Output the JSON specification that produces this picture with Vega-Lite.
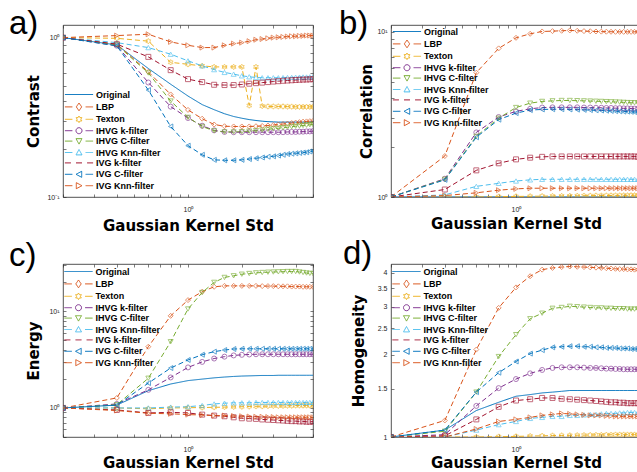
{
"$schema":"https://vega.github.io/schema/vega-lite/v6.json",
"background":"white",
"padding":{"left":8,"top":7,"right":0,"bottom":0},
"params":[
{"name":"shp","value":{"O":"M-4.7,0L4.7,0","L":"M-4.7,0L-2.2,0M2.2,0L4.7,0M0,-1.3L0.9,0L0,1.3L-0.9,0Z","T":"M-4.7,0L-2.2,0M2.2,0L4.7,0M0,-1.1L-0.32,-0.55L-0.95,-0.55L-0.63,0L-0.95,0.55L-0.32,0.55L0,1.1L0.32,0.55L0.95,0.55L0.63,0L0.95,-0.55L0.32,-0.55Z","Hk":"M-4.7,0L-2.2,0M2.2,0L4.7,0M-1,0A1 1 0 1 0 1,0A1 1 0 1 0 -1,0Z","Hc":"M-4.7,0L-2.2,0M2.2,0L4.7,0M-1,-0.8L1,-0.8L0,1Z","Hn":"M-4.7,0L-2.2,0M2.2,0L4.7,0M-1,0.8L1,0.8L0,-1Z","Vk":"M-4.7,0L-2.7,0M-1,0L1,0M2.7,0L4.7,0","Vc":"M-4.7,0L-2.2,0M2.2,0L4.7,0M0.9,-1L0.9,1L-1,0Z","Vn":"M-4.7,0L-2.2,0M2.2,0L4.7,0M-0.9,-1L-0.9,1L1,0Z"}},
{"name":"lbl","value":{"O":"Original","L":"LBP","T":"Texton","Hk":"IHVG k-filter","Hc":"IHVG C-filter","Hn":"IHVG Knn-filter","Vk":"IVG k-filter","Vc":"IVG C-filter","Vn":"IVG Knn-filter"}}
],
"columns":2,
"spacing":{"row":3,"column":24},
"concat":[
{"width":250,"height":172,"data":{"name":"a"},
"title":{"text":"a)","dx":-54,"offset":-16},
"resolve":{"axis":{"x":"independent","y":"independent"}},
"layer":[
{"mark":{"type":"line","strokeWidth":1,"clip":true},
"encoding":{
"x":{"field":"s","type":"quantitative","scale":{"type":"log","domain":[0.2,5],"nice":false},"axis":{"orient":"bottom","values":[0.2,0.3,0.4,0.5,0.6,0.7,0.8,0.9,1,2,3,4,5],"labelExpr":"datum.value==1?'10⁰':''","labelPadding":11,"title":"Gaussian Kernel Std","titleY":33,"titleBaseline":"alphabetic"}},
"y":{"field":"v","type":"quantitative","scale":{"type":"log","domain":[0.1,1.2],"nice":false},"axis":{"orient":"left","values":[0.1,0.2,0.3,0.4,0.5,0.6,0.7,0.8,0.9,1],"labelExpr":"datum.value==1?'10⁰':datum.value==0.1?'10⁻¹':''","labelPadding":7,"title":"Contrast","titleX":-25,"titleBaseline":"alphabetic"}},
"color":{"field":"k","type":"nominal","scale":{"domain":["O","L","T","Hk","Hc","Hn","Vk","Vc","Vn"],"range":["#0072BD","#D95319","#EDB120","#7E2F8E","#77AC30","#4DBEEE","#A2142F","#0072BD","#D95319"]},"legend":{"orient":"bottom-left","offset":6.5,"symbolOffset":4.5,"labelOffset":12.5,"labelExpr":"lbl[datum.label]","encode":{"symbols":{"update":{"shape":{"signal":"shp[datum.value]"},"fill":{"value":"transparent"},"strokeDash":{"value":[1,0]},"strokeWidth":{"value":1},"size":{"value":36}}}}}},
"strokeDash":{"field":"k","type":"nominal","scale":{"domain":["O","L","T","Hk","Hc","Hn","Vk","Vc","Vn"],"range":[[1,0],[5,3],[5,3],[5,3],[5,3],[5,3],[5,3],[5,3],[5,3]]},"legend":null}}},
{"mark":{"type":"point","filled":false,"size":25,"strokeWidth":0.9,"clip":true},
"transform":[{"filter":"datum.k!='O'"}],
"encoding":{
"x":{"field":"s","type":"quantitative","scale":{"type":"log","domain":[0.2,5],"nice":false},"axis":{"orient":"top","values":[0.2,0.3,0.4,0.5,0.6,0.7,0.8,0.9,1,2,3,4,5],"labels":false,"title":null}},
"y":{"field":"v","type":"quantitative","scale":{"type":"log","domain":[0.1,1.2],"nice":false},"axis":{"orient":"right","values":[0.1,0.2,0.3,0.4,0.5,0.6,0.7,0.8,0.9,1],"labels":false,"title":null}},
"color":{"field":"k","type":"nominal","legend":null},
"shape":{"field":"k","type":"nominal","scale":{"domain":["O","L","T","Hk","Hc","Hn","Vk","Vc","Vn"],"range":["circle","diamond","M0,-1.1L-0.32,-0.55L-0.95,-0.55L-0.63,0L-0.95,0.55L-0.32,0.55L0,1.1L0.32,0.55L0.95,0.55L0.63,0L0.95,-0.55L0.32,-0.55Z","circle","triangle-down","triangle-up","square","triangle-left","triangle-right"]},"legend":null}}}
]},
{"width":250,"height":172,"data":{"name":"b"},
"title":{"text":"b)","dx":-52,"offset":-16},
"resolve":{"axis":{"x":"independent","y":"independent"}},
"layer":[
{"mark":{"type":"line","strokeWidth":1,"clip":true},
"encoding":{
"x":{"field":"s","type":"quantitative","scale":{"type":"log","domain":[0.2,5],"nice":false},"axis":{"orient":"bottom","values":[0.2,0.3,0.4,0.5,0.6,0.7,0.8,0.9,1,2,3,4,5],"labelExpr":"datum.value==1?'10⁰':''","labelPadding":11,"title":"Gaussian Kernel Std","titleY":31,"titleBaseline":"alphabetic"}},
"y":{"field":"v","type":"quantitative","scale":{"type":"log","domain":[1,11],"nice":false},"axis":{"orient":"left","values":[1,2,3,4,5,6,7,8,9,10],"labelExpr":"datum.value==1?'10⁰':datum.value==10?'10¹':''","labelPadding":7,"title":"Correlation","titleX":-20,"titleBaseline":"alphabetic"}},
"color":{"field":"k","type":"nominal","scale":{"domain":["O","L","T","Hk","Hc","Hn","Vk","Vc","Vn"],"range":["#0072BD","#D95319","#EDB120","#7E2F8E","#77AC30","#4DBEEE","#A2142F","#0072BD","#D95319"]},"legend":{"orient":"top-left","offset":1.5,"symbolOffset":9.5,"labelOffset":12.5,"labelExpr":"lbl[datum.label]","encode":{"symbols":{"update":{"shape":{"signal":"shp[datum.value]"},"fill":{"value":"transparent"},"strokeDash":{"value":[1,0]},"strokeWidth":{"value":1},"size":{"value":36}}}}}},
"strokeDash":{"field":"k","type":"nominal","scale":{"domain":["O","L","T","Hk","Hc","Hn","Vk","Vc","Vn"],"range":[[1,0],[5,3],[5,3],[5,3],[5,3],[5,3],[5,3],[5,3],[5,3]]},"legend":null}}},
{"mark":{"type":"point","filled":false,"size":25,"strokeWidth":0.9,"clip":true},
"transform":[{"filter":"datum.k!='O'"}],
"encoding":{
"x":{"field":"s","type":"quantitative","scale":{"type":"log","domain":[0.2,5],"nice":false},"axis":{"orient":"top","values":[0.2,0.3,0.4,0.5,0.6,0.7,0.8,0.9,1,2,3,4,5],"labels":false,"title":null}},
"y":{"field":"v","type":"quantitative","scale":{"type":"log","domain":[1,11],"nice":false},"axis":{"orient":"right","values":[1,2,3,4,5,6,7,8,9,10],"labels":false,"title":null}},
"color":{"field":"k","type":"nominal","legend":null},
"shape":{"field":"k","type":"nominal","scale":{"domain":["O","L","T","Hk","Hc","Hn","Vk","Vc","Vn"],"range":["circle","diamond","M0,-1.1L-0.32,-0.55L-0.95,-0.55L-0.63,0L-0.95,0.55L-0.32,0.55L0,1.1L0.32,0.55L0.95,0.55L0.63,0L0.95,-0.55L0.32,-0.55Z","circle","triangle-down","triangle-up","square","triangle-left","triangle-right"]},"legend":null}}}
]},
{"width":250,"height":173,"data":{"name":"c"},
"title":{"text":"c)","dx":-54,"offset":-12},
"resolve":{"axis":{"x":"independent","y":"independent"}},
"layer":[
{"mark":{"type":"line","strokeWidth":1,"clip":true},
"encoding":{
"x":{"field":"s","type":"quantitative","scale":{"type":"log","domain":[0.2,5],"nice":false},"axis":{"orient":"bottom","values":[0.2,0.3,0.4,0.5,0.6,0.7,0.8,0.9,1,2,3,4,5],"labelExpr":"datum.value==1?'10⁰':''","labelPadding":11,"title":"Gaussian Kernel Std","titleY":30,"titleBaseline":"alphabetic"}},
"y":{"field":"v","type":"quantitative","scale":{"type":"log","domain":[0.5,31],"nice":false},"axis":{"orient":"left","values":[0.5,0.6,0.7,0.8,0.9,1,2,3,4,5,6,7,8,9,10,20,30],"labelExpr":"datum.value==1?'10⁰':datum.value==10?'10¹':''","labelPadding":7,"title":"Energy","titleX":-25,"titleBaseline":"alphabetic"}},
"color":{"field":"k","type":"nominal","scale":{"domain":["O","L","T","Hk","Hc","Hn","Vk","Vc","Vn"],"range":["#0072BD","#D95319","#EDB120","#7E2F8E","#77AC30","#4DBEEE","#A2142F","#0072BD","#D95319"]},"legend":{"orient":"top-left","offset":3,"symbolOffset":8,"labelOffset":12.5,"labelExpr":"lbl[datum.label]","encode":{"symbols":{"update":{"shape":{"signal":"shp[datum.value]"},"fill":{"value":"transparent"},"strokeDash":{"value":[1,0]},"strokeWidth":{"value":1},"size":{"value":36}}}}}},
"strokeDash":{"field":"k","type":"nominal","scale":{"domain":["O","L","T","Hk","Hc","Hn","Vk","Vc","Vn"],"range":[[1,0],[5,3],[5,3],[5,3],[5,3],[5,3],[5,3],[5,3],[5,3]]},"legend":null}}},
{"mark":{"type":"point","filled":false,"size":25,"strokeWidth":0.9,"clip":true},
"transform":[{"filter":"datum.k!='O'"}],
"encoding":{
"x":{"field":"s","type":"quantitative","scale":{"type":"log","domain":[0.2,5],"nice":false},"axis":{"orient":"top","values":[0.2,0.3,0.4,0.5,0.6,0.7,0.8,0.9,1,2,3,4,5],"labels":false,"title":null}},
"y":{"field":"v","type":"quantitative","scale":{"type":"log","domain":[0.5,31],"nice":false},"axis":{"orient":"right","values":[0.5,0.6,0.7,0.8,0.9,1,2,3,4,5,6,7,8,9,10,20,30],"labels":false,"title":null}},
"color":{"field":"k","type":"nominal","legend":null},
"shape":{"field":"k","type":"nominal","scale":{"domain":["O","L","T","Hk","Hc","Hn","Vk","Vc","Vn"],"range":["circle","diamond","M0,-1.1L-0.32,-0.55L-0.95,-0.55L-0.63,0L-0.95,0.55L-0.32,0.55L0,1.1L0.32,0.55L0.95,0.55L0.63,0L0.95,-0.55L0.32,-0.55Z","circle","triangle-down","triangle-up","square","triangle-left","triangle-right"]},"legend":null}}}
]},
{"width":250,"height":173,"data":{"name":"d"},
"title":{"text":"d)","dx":-48,"offset":-7},
"resolve":{"axis":{"x":"independent","y":"independent"}},
"layer":[
{"mark":{"type":"line","strokeWidth":1,"clip":true},
"encoding":{
"x":{"field":"s","type":"quantitative","scale":{"type":"log","domain":[0.2,5],"nice":false},"axis":{"orient":"bottom","values":[0.2,0.3,0.4,0.5,0.6,0.7,0.8,0.9,1,2,3,4,5],"labelExpr":"datum.value==1?'10⁰':''","labelPadding":11,"title":"Gaussian Kernel Std","titleY":30,"titleBaseline":"alphabetic"}},
"y":{"field":"v","type":"quantitative","scale":{"type":"log","domain":[1,4.3],"nice":false},"axis":{"orient":"left","values":[1,1.5,2,2.5,3,3.5,4],"format":"~g","labelPadding":7,"title":"Homogeneity","titleX":-28,"titleBaseline":"alphabetic"}},
"color":{"field":"k","type":"nominal","scale":{"domain":["O","L","T","Hk","Hc","Hn","Vk","Vc","Vn"],"range":["#0072BD","#D95319","#EDB120","#7E2F8E","#77AC30","#4DBEEE","#A2142F","#0072BD","#D95319"]},"legend":{"orient":"top-left","offset":3,"symbolOffset":8,"labelOffset":12.5,"labelExpr":"lbl[datum.label]","encode":{"symbols":{"update":{"shape":{"signal":"shp[datum.value]"},"fill":{"value":"transparent"},"strokeDash":{"value":[1,0]},"strokeWidth":{"value":1},"size":{"value":36}}}}}},
"strokeDash":{"field":"k","type":"nominal","scale":{"domain":["O","L","T","Hk","Hc","Hn","Vk","Vc","Vn"],"range":[[1,0],[5,3],[5,3],[5,3],[5,3],[5,3],[5,3],[5,3],[5,3]]},"legend":null}}},
{"mark":{"type":"point","filled":false,"size":25,"strokeWidth":0.9,"clip":true},
"transform":[{"filter":"datum.k!='O'"}],
"encoding":{
"x":{"field":"s","type":"quantitative","scale":{"type":"log","domain":[0.2,5],"nice":false},"axis":{"orient":"top","values":[0.2,0.3,0.4,0.5,0.6,0.7,0.8,0.9,1,2,3,4,5],"labels":false,"title":null}},
"y":{"field":"v","type":"quantitative","scale":{"type":"log","domain":[1,4.3],"nice":false},"axis":{"orient":"right","values":[1,1.5,2,2.5,3,3.5,4],"labels":false,"title":null}},
"color":{"field":"k","type":"nominal","legend":null},
"shape":{"field":"k","type":"nominal","scale":{"domain":["O","L","T","Hk","Hc","Hn","Vk","Vc","Vn"],"range":["circle","diamond","M0,-1.1L-0.32,-0.55L-0.95,-0.55L-0.63,0L-0.95,0.55L-0.32,0.55L0,1.1L0.32,0.55L0.95,0.55L0.63,0L0.95,-0.55L0.32,-0.55Z","circle","triangle-down","triangle-up","square","triangle-left","triangle-right"]},"legend":null}}}
]}
],
"config":{
"view":{"stroke":"#262626","strokeWidth":0.8},
"title":{"anchor":"start","frame":"group","fontSize":33,"font":"Liberation Sans","fontWeight":"normal","baseline":"bottom","color":"#000"},
"axis":{"grid":false,"domain":false,"tickColor":"#262626","tickSize":-3,"tickWidth":0.6,"labelFont":"Liberation Sans","labelFontSize":7,"labelColor":"#262626","labelOverlap":false,"labelFlush":false,"labelBound":false,"titleFont":"DejaVu Sans","titleFontSize":15,"titleFontWeight":"bold","titleColor":"#000"},
"axisY":{"minExtent":0},
"legend":{"title":null,"padding":0,"symbolSize":36,"rowPadding":0.4,"labelFont":"Liberation Sans","labelFontSize":9,"labelFontWeight":"bold","labelColor":"#000"}
},
"datasets":{
"a":[
{"k":"O","s":0.2,"v":1},{"k":"O","s":0.4,"v":0.9},{"k":"O","s":0.6,"v":0.64},{"k":"O","s":0.8,"v":0.51},{"k":"O","s":1,"v":0.43},{"k":"O","s":1.2,"v":0.38},{"k":"O","s":1.4,"v":0.353},{"k":"O","s":1.6,"v":0.333},{"k":"O","s":1.8,"v":0.32},{"k":"O","s":2,"v":0.312},{"k":"O","s":2.2,"v":0.306},{"k":"O","s":2.4,"v":0.302},{"k":"O","s":2.6,"v":0.299},{"k":"O","s":2.8,"v":0.297},{"k":"O","s":3,"v":0.296},{"k":"O","s":3.2,"v":0.295},{"k":"O","s":3.4,"v":0.295},{"k":"O","s":3.6,"v":0.295},{"k":"O","s":3.8,"v":0.295},{"k":"O","s":4,"v":0.295},{"k":"O","s":4.2,"v":0.295},{"k":"O","s":4.4,"v":0.295},{"k":"O","s":4.6,"v":0.295},{"k":"O","s":4.8,"v":0.295},{"k":"O","s":5,"v":0.295},
{"k":"L","s":0.2,"v":1},{"k":"L","s":0.4,"v":0.91},{"k":"L","s":0.6,"v":0.61},{"k":"L","s":0.8,"v":0.44},{"k":"L","s":1,"v":0.352},{"k":"L","s":1.2,"v":0.31},{"k":"L","s":1.4,"v":0.285},{"k":"L","s":1.6,"v":0.278},{"k":"L","s":1.8,"v":0.277},{"k":"L","s":2,"v":0.277},{"k":"L","s":2.2,"v":0.277},{"k":"L","s":2.4,"v":0.278},{"k":"L","s":2.6,"v":0.279},{"k":"L","s":2.8,"v":0.281},{"k":"L","s":3,"v":0.283},{"k":"L","s":3.2,"v":0.285},{"k":"L","s":3.4,"v":0.287},{"k":"L","s":3.6,"v":0.289},{"k":"L","s":3.8,"v":0.291},{"k":"L","s":4,"v":0.293},{"k":"L","s":4.2,"v":0.295},{"k":"L","s":4.4,"v":0.297},{"k":"L","s":4.6,"v":0.298},{"k":"L","s":4.8,"v":0.299},{"k":"L","s":5,"v":0.3},
{"k":"T","s":0.2,"v":1},{"k":"T","s":0.4,"v":0.99},{"k":"T","s":0.6,"v":0.95},{"k":"T","s":0.8,"v":0.7},{"k":"T","s":1,"v":0.68},{"k":"T","s":1.2,"v":0.665},{"k":"T","s":1.4,"v":0.655},{"k":"T","s":1.6,"v":0.655},{"k":"T","s":1.8,"v":0.655},{"k":"T","s":2,"v":0.655},{"k":"T","s":2.2,"v":0.375},{"k":"T","s":2.4,"v":0.655},{"k":"T","s":2.6,"v":0.372},{"k":"T","s":2.8,"v":0.37},{"k":"T","s":3,"v":0.37},{"k":"T","s":3.2,"v":0.37},{"k":"T","s":3.4,"v":0.37},{"k":"T","s":3.6,"v":0.369},{"k":"T","s":3.8,"v":0.369},{"k":"T","s":4,"v":0.368},{"k":"T","s":4.2,"v":0.368},{"k":"T","s":4.4,"v":0.368},{"k":"T","s":4.6,"v":0.368},{"k":"T","s":4.8,"v":0.368},{"k":"T","s":5,"v":0.368},
{"k":"Hk","s":0.2,"v":1},{"k":"Hk","s":0.4,"v":0.89},{"k":"Hk","s":0.6,"v":0.523},{"k":"Hk","s":0.8,"v":0.369},{"k":"Hk","s":1,"v":0.313},{"k":"Hk","s":1.2,"v":0.28},{"k":"Hk","s":1.4,"v":0.262},{"k":"Hk","s":1.6,"v":0.256},{"k":"Hk","s":1.8,"v":0.255},{"k":"Hk","s":2,"v":0.255},{"k":"Hk","s":2.2,"v":0.255},{"k":"Hk","s":2.4,"v":0.255},{"k":"Hk","s":2.6,"v":0.255},{"k":"Hk","s":2.8,"v":0.255},{"k":"Hk","s":3,"v":0.255},{"k":"Hk","s":3.2,"v":0.255},{"k":"Hk","s":3.4,"v":0.255},{"k":"Hk","s":3.6,"v":0.256},{"k":"Hk","s":3.8,"v":0.256},{"k":"Hk","s":4,"v":0.256},{"k":"Hk","s":4.2,"v":0.257},{"k":"Hk","s":4.4,"v":0.257},{"k":"Hk","s":4.6,"v":0.258},{"k":"Hk","s":4.8,"v":0.258},{"k":"Hk","s":5,"v":0.259},
{"k":"Hc","s":0.2,"v":1},{"k":"Hc","s":0.4,"v":0.9},{"k":"Hc","s":0.6,"v":0.6},{"k":"Hc","s":0.8,"v":0.4},{"k":"Hc","s":1,"v":0.316},{"k":"Hc","s":1.2,"v":0.277},{"k":"Hc","s":1.4,"v":0.26},{"k":"Hc","s":1.6,"v":0.256},{"k":"Hc","s":1.8,"v":0.256},{"k":"Hc","s":2,"v":0.257},{"k":"Hc","s":2.2,"v":0.259},{"k":"Hc","s":2.4,"v":0.261},{"k":"Hc","s":2.6,"v":0.263},{"k":"Hc","s":2.8,"v":0.266},{"k":"Hc","s":3,"v":0.268},{"k":"Hc","s":3.2,"v":0.27},{"k":"Hc","s":3.4,"v":0.272},{"k":"Hc","s":3.6,"v":0.274},{"k":"Hc","s":3.8,"v":0.276},{"k":"Hc","s":4,"v":0.278},{"k":"Hc","s":4.2,"v":0.279},{"k":"Hc","s":4.4,"v":0.281},{"k":"Hc","s":4.6,"v":0.282},{"k":"Hc","s":4.8,"v":0.284},{"k":"Hc","s":5,"v":0.285},
{"k":"Hn","s":0.2,"v":1},{"k":"Hn","s":0.4,"v":0.93},{"k":"Hn","s":0.6,"v":0.866},{"k":"Hn","s":0.8,"v":0.787},{"k":"Hn","s":1,"v":0.715},{"k":"Hn","s":1.2,"v":0.665},{"k":"Hn","s":1.4,"v":0.63},{"k":"Hn","s":1.6,"v":0.605},{"k":"Hn","s":1.8,"v":0.59},{"k":"Hn","s":2,"v":0.576},{"k":"Hn","s":2.2,"v":0.568},{"k":"Hn","s":2.4,"v":0.562},{"k":"Hn","s":2.6,"v":0.56},{"k":"Hn","s":2.8,"v":0.56},{"k":"Hn","s":3,"v":0.56},{"k":"Hn","s":3.2,"v":0.56},{"k":"Hn","s":3.4,"v":0.561},{"k":"Hn","s":3.6,"v":0.562},{"k":"Hn","s":3.8,"v":0.563},{"k":"Hn","s":4,"v":0.564},{"k":"Hn","s":4.2,"v":0.565},{"k":"Hn","s":4.4,"v":0.566},{"k":"Hn","s":4.6,"v":0.566},{"k":"Hn","s":4.8,"v":0.567},{"k":"Hn","s":5,"v":0.567},
{"k":"Vk","s":0.2,"v":1},{"k":"Vk","s":0.4,"v":0.91},{"k":"Vk","s":0.6,"v":0.757},{"k":"Vk","s":0.8,"v":0.625},{"k":"Vk","s":1,"v":0.549},{"k":"Vk","s":1.2,"v":0.526},{"k":"Vk","s":1.4,"v":0.506},{"k":"Vk","s":1.6,"v":0.504},{"k":"Vk","s":1.8,"v":0.504},{"k":"Vk","s":2,"v":0.508},{"k":"Vk","s":2.2,"v":0.514},{"k":"Vk","s":2.4,"v":0.518},{"k":"Vk","s":2.6,"v":0.522},{"k":"Vk","s":2.8,"v":0.526},{"k":"Vk","s":3,"v":0.53},{"k":"Vk","s":3.2,"v":0.533},{"k":"Vk","s":3.4,"v":0.536},{"k":"Vk","s":3.6,"v":0.538},{"k":"Vk","s":3.8,"v":0.54},{"k":"Vk","s":4,"v":0.542},{"k":"Vk","s":4.2,"v":0.544},{"k":"Vk","s":4.4,"v":0.545},{"k":"Vk","s":4.6,"v":0.546},{"k":"Vk","s":4.8,"v":0.547},{"k":"Vk","s":5,"v":0.549},
{"k":"Vc","s":0.2,"v":1},{"k":"Vc","s":0.4,"v":0.887},{"k":"Vc","s":0.6,"v":0.469},{"k":"Vc","s":0.8,"v":0.277},{"k":"Vc","s":1,"v":0.21},{"k":"Vc","s":1.2,"v":0.184},{"k":"Vc","s":1.4,"v":0.171},{"k":"Vc","s":1.6,"v":0.17},{"k":"Vc","s":1.8,"v":0.17},{"k":"Vc","s":2,"v":0.171},{"k":"Vc","s":2.2,"v":0.173},{"k":"Vc","s":2.4,"v":0.175},{"k":"Vc","s":2.6,"v":0.177},{"k":"Vc","s":2.8,"v":0.179},{"k":"Vc","s":3,"v":0.18},{"k":"Vc","s":3.2,"v":0.182},{"k":"Vc","s":3.4,"v":0.184},{"k":"Vc","s":3.6,"v":0.186},{"k":"Vc","s":3.8,"v":0.187},{"k":"Vc","s":4,"v":0.188},{"k":"Vc","s":4.2,"v":0.189},{"k":"Vc","s":4.4,"v":0.19},{"k":"Vc","s":4.6,"v":0.191},{"k":"Vc","s":4.8,"v":0.193},{"k":"Vc","s":5,"v":0.194},
{"k":"Vn","s":0.2,"v":1},{"k":"Vn","s":0.4,"v":1.03},{"k":"Vn","s":0.6,"v":1.05},{"k":"Vn","s":0.8,"v":0.94},{"k":"Vn","s":1,"v":0.895},{"k":"Vn","s":1.2,"v":0.866},{"k":"Vn","s":1.4,"v":0.866},{"k":"Vn","s":1.6,"v":0.895},{"k":"Vn","s":1.8,"v":0.917},{"k":"Vn","s":2,"v":0.93},{"k":"Vn","s":2.2,"v":0.95},{"k":"Vn","s":2.4,"v":0.97},{"k":"Vn","s":2.6,"v":0.98},{"k":"Vn","s":2.8,"v":0.99},{"k":"Vn","s":3,"v":1},{"k":"Vn","s":3.2,"v":1.005},{"k":"Vn","s":3.4,"v":1.01},{"k":"Vn","s":3.6,"v":1.015},{"k":"Vn","s":3.8,"v":1.02},{"k":"Vn","s":4,"v":1.02},{"k":"Vn","s":4.2,"v":1.025},{"k":"Vn","s":4.4,"v":1.025},{"k":"Vn","s":4.6,"v":1.03},{"k":"Vn","s":4.8,"v":1.03},{"k":"Vn","s":5,"v":1.03}
],
"b":[
{"k":"O","s":0.2,"v":1},{"k":"O","s":0.4,"v":1},{"k":"O","s":0.6,"v":1},{"k":"O","s":0.8,"v":1},{"k":"O","s":1,"v":1},{"k":"O","s":1.2,"v":1},{"k":"O","s":1.4,"v":1},{"k":"O","s":1.6,"v":1},{"k":"O","s":1.8,"v":1},{"k":"O","s":2,"v":1},{"k":"O","s":2.2,"v":1},{"k":"O","s":2.4,"v":1},{"k":"O","s":2.6,"v":1},{"k":"O","s":2.8,"v":1},{"k":"O","s":3,"v":1},{"k":"O","s":3.2,"v":1},{"k":"O","s":3.4,"v":1},{"k":"O","s":3.6,"v":1},{"k":"O","s":3.8,"v":1},{"k":"O","s":4,"v":1},{"k":"O","s":4.2,"v":1},{"k":"O","s":4.4,"v":1},{"k":"O","s":4.6,"v":1},{"k":"O","s":4.8,"v":1},{"k":"O","s":5,"v":1},
{"k":"L","s":0.2,"v":1},{"k":"L","s":0.4,"v":1.77},{"k":"L","s":0.6,"v":5.66},{"k":"L","s":0.8,"v":7.94},{"k":"L","s":1,"v":9.2},{"k":"L","s":1.2,"v":9.73},{"k":"L","s":1.4,"v":10.05},{"k":"L","s":1.6,"v":10.1},{"k":"L","s":1.8,"v":10.15},{"k":"L","s":2,"v":10.2},{"k":"L","s":2.2,"v":10.15},{"k":"L","s":2.4,"v":10.1},{"k":"L","s":2.6,"v":10.08},{"k":"L","s":2.8,"v":10.05},{"k":"L","s":3,"v":10.03},{"k":"L","s":3.2,"v":10.02},{"k":"L","s":3.4,"v":10.01},{"k":"L","s":3.6,"v":10},{"k":"L","s":3.8,"v":10},{"k":"L","s":4,"v":10},{"k":"L","s":4.2,"v":10},{"k":"L","s":4.4,"v":10},{"k":"L","s":4.6,"v":10},{"k":"L","s":4.8,"v":10},{"k":"L","s":5,"v":10},
{"k":"T","s":0.2,"v":1},{"k":"T","s":0.4,"v":1},{"k":"T","s":0.6,"v":1},{"k":"T","s":0.8,"v":1.005},{"k":"T","s":1,"v":1.008},{"k":"T","s":1.2,"v":1.01},{"k":"T","s":1.4,"v":1.012},{"k":"T","s":1.6,"v":1.014},{"k":"T","s":1.8,"v":1.015},{"k":"T","s":2,"v":1.016},{"k":"T","s":2.2,"v":1.017},{"k":"T","s":2.4,"v":1.018},{"k":"T","s":2.6,"v":1.019},{"k":"T","s":2.8,"v":1.02},{"k":"T","s":3,"v":1.02},{"k":"T","s":3.2,"v":1.021},{"k":"T","s":3.4,"v":1.021},{"k":"T","s":3.6,"v":1.022},{"k":"T","s":3.8,"v":1.022},{"k":"T","s":4,"v":1.023},{"k":"T","s":4.2,"v":1.023},{"k":"T","s":4.4,"v":1.024},{"k":"T","s":4.6,"v":1.024},{"k":"T","s":4.8,"v":1.025},{"k":"T","s":5,"v":1.025},
{"k":"Hk","s":0.2,"v":1},{"k":"Hk","s":0.4,"v":1.29},{"k":"Hk","s":0.6,"v":2.46},{"k":"Hk","s":0.8,"v":3.05},{"k":"Hk","s":1,"v":3.3},{"k":"Hk","s":1.2,"v":3.42},{"k":"Hk","s":1.4,"v":3.48},{"k":"Hk","s":1.6,"v":3.49},{"k":"Hk","s":1.8,"v":3.49},{"k":"Hk","s":2,"v":3.49},{"k":"Hk","s":2.2,"v":3.49},{"k":"Hk","s":2.4,"v":3.48},{"k":"Hk","s":2.6,"v":3.48},{"k":"Hk","s":2.8,"v":3.47},{"k":"Hk","s":3,"v":3.47},{"k":"Hk","s":3.2,"v":3.46},{"k":"Hk","s":3.4,"v":3.46},{"k":"Hk","s":3.6,"v":3.45},{"k":"Hk","s":3.8,"v":3.45},{"k":"Hk","s":4,"v":3.44},{"k":"Hk","s":4.2,"v":3.44},{"k":"Hk","s":4.4,"v":3.43},{"k":"Hk","s":4.6,"v":3.43},{"k":"Hk","s":4.8,"v":3.42},{"k":"Hk","s":5,"v":3.42},
{"k":"Hc","s":0.2,"v":1},{"k":"Hc","s":0.4,"v":1.28},{"k":"Hc","s":0.6,"v":2.33},{"k":"Hc","s":0.8,"v":3},{"k":"Hc","s":1,"v":3.48},{"k":"Hc","s":1.2,"v":3.7},{"k":"Hc","s":1.4,"v":3.79},{"k":"Hc","s":1.6,"v":3.82},{"k":"Hc","s":1.8,"v":3.84},{"k":"Hc","s":2,"v":3.84},{"k":"Hc","s":2.2,"v":3.83},{"k":"Hc","s":2.4,"v":3.82},{"k":"Hc","s":2.6,"v":3.81},{"k":"Hc","s":2.8,"v":3.8},{"k":"Hc","s":3,"v":3.79},{"k":"Hc","s":3.2,"v":3.78},{"k":"Hc","s":3.4,"v":3.77},{"k":"Hc","s":3.6,"v":3.76},{"k":"Hc","s":3.8,"v":3.75},{"k":"Hc","s":4,"v":3.74},{"k":"Hc","s":4.2,"v":3.73},{"k":"Hc","s":4.4,"v":3.72},{"k":"Hc","s":4.6,"v":3.72},{"k":"Hc","s":4.8,"v":3.71},{"k":"Hc","s":5,"v":3.7},
{"k":"Hn","s":0.2,"v":1},{"k":"Hn","s":0.4,"v":1.03},{"k":"Hn","s":0.6,"v":1.16},{"k":"Hn","s":0.8,"v":1.21},{"k":"Hn","s":1,"v":1.25},{"k":"Hn","s":1.2,"v":1.27},{"k":"Hn","s":1.4,"v":1.28},{"k":"Hn","s":1.6,"v":1.28},{"k":"Hn","s":1.8,"v":1.28},{"k":"Hn","s":2,"v":1.28},{"k":"Hn","s":2.2,"v":1.28},{"k":"Hn","s":2.4,"v":1.28},{"k":"Hn","s":2.6,"v":1.28},{"k":"Hn","s":2.8,"v":1.28},{"k":"Hn","s":3,"v":1.28},{"k":"Hn","s":3.2,"v":1.28},{"k":"Hn","s":3.4,"v":1.28},{"k":"Hn","s":3.6,"v":1.28},{"k":"Hn","s":3.8,"v":1.28},{"k":"Hn","s":4,"v":1.28},{"k":"Hn","s":4.2,"v":1.28},{"k":"Hn","s":4.4,"v":1.28},{"k":"Hn","s":4.6,"v":1.28},{"k":"Hn","s":4.8,"v":1.28},{"k":"Hn","s":5,"v":1.28},
{"k":"Vk","s":0.2,"v":1},{"k":"Vk","s":0.4,"v":1.11},{"k":"Vk","s":0.6,"v":1.45},{"k":"Vk","s":0.8,"v":1.6},{"k":"Vk","s":1,"v":1.69},{"k":"Vk","s":1.2,"v":1.73},{"k":"Vk","s":1.4,"v":1.75},{"k":"Vk","s":1.6,"v":1.76},{"k":"Vk","s":1.8,"v":1.76},{"k":"Vk","s":2,"v":1.76},{"k":"Vk","s":2.2,"v":1.76},{"k":"Vk","s":2.4,"v":1.76},{"k":"Vk","s":2.6,"v":1.76},{"k":"Vk","s":2.8,"v":1.76},{"k":"Vk","s":3,"v":1.76},{"k":"Vk","s":3.2,"v":1.76},{"k":"Vk","s":3.4,"v":1.76},{"k":"Vk","s":3.6,"v":1.76},{"k":"Vk","s":3.8,"v":1.76},{"k":"Vk","s":4,"v":1.76},{"k":"Vk","s":4.2,"v":1.76},{"k":"Vk","s":4.4,"v":1.76},{"k":"Vk","s":4.6,"v":1.76},{"k":"Vk","s":4.8,"v":1.75},{"k":"Vk","s":5,"v":1.75},
{"k":"Vc","s":0.2,"v":1},{"k":"Vc","s":0.4,"v":1.27},{"k":"Vc","s":0.6,"v":2.3},{"k":"Vc","s":0.8,"v":2.94},{"k":"Vc","s":1,"v":3.22},{"k":"Vc","s":1.2,"v":3.36},{"k":"Vc","s":1.4,"v":3.39},{"k":"Vc","s":1.6,"v":3.4},{"k":"Vc","s":1.8,"v":3.4},{"k":"Vc","s":2,"v":3.39},{"k":"Vc","s":2.2,"v":3.38},{"k":"Vc","s":2.4,"v":3.37},{"k":"Vc","s":2.6,"v":3.36},{"k":"Vc","s":2.8,"v":3.35},{"k":"Vc","s":3,"v":3.34},{"k":"Vc","s":3.2,"v":3.33},{"k":"Vc","s":3.4,"v":3.32},{"k":"Vc","s":3.6,"v":3.31},{"k":"Vc","s":3.8,"v":3.3},{"k":"Vc","s":4,"v":3.29},{"k":"Vc","s":4.2,"v":3.29},{"k":"Vc","s":4.4,"v":3.28},{"k":"Vc","s":4.6,"v":3.27},{"k":"Vc","s":4.8,"v":3.27},{"k":"Vc","s":5,"v":3.26},
{"k":"Vn","s":0.2,"v":1},{"k":"Vn","s":0.4,"v":1.02},{"k":"Vn","s":0.6,"v":1.06},{"k":"Vn","s":0.8,"v":1.1},{"k":"Vn","s":1,"v":1.12},{"k":"Vn","s":1.2,"v":1.13},{"k":"Vn","s":1.4,"v":1.13},{"k":"Vn","s":1.6,"v":1.13},{"k":"Vn","s":1.8,"v":1.13},{"k":"Vn","s":2,"v":1.13},{"k":"Vn","s":2.2,"v":1.13},{"k":"Vn","s":2.4,"v":1.13},{"k":"Vn","s":2.6,"v":1.13},{"k":"Vn","s":2.8,"v":1.13},{"k":"Vn","s":3,"v":1.13},{"k":"Vn","s":3.2,"v":1.13},{"k":"Vn","s":3.4,"v":1.13},{"k":"Vn","s":3.6,"v":1.13},{"k":"Vn","s":3.8,"v":1.13},{"k":"Vn","s":4,"v":1.13},{"k":"Vn","s":4.2,"v":1.13},{"k":"Vn","s":4.4,"v":1.13},{"k":"Vn","s":4.6,"v":1.13},{"k":"Vn","s":4.8,"v":1.13},{"k":"Vn","s":5,"v":1.13}
],
"c":[
{"k":"O","s":0.2,"v":1},{"k":"O","s":0.4,"v":1.07},{"k":"O","s":0.6,"v":1.51},{"k":"O","s":0.8,"v":1.77},{"k":"O","s":1,"v":1.92},{"k":"O","s":1.2,"v":1.99},{"k":"O","s":1.4,"v":2.05},{"k":"O","s":1.6,"v":2.09},{"k":"O","s":1.8,"v":2.12},{"k":"O","s":2,"v":2.14},{"k":"O","s":2.2,"v":2.15},{"k":"O","s":2.4,"v":2.16},{"k":"O","s":2.6,"v":2.17},{"k":"O","s":2.8,"v":2.17},{"k":"O","s":3,"v":2.17},{"k":"O","s":3.2,"v":2.18},{"k":"O","s":3.4,"v":2.18},{"k":"O","s":3.6,"v":2.18},{"k":"O","s":3.8,"v":2.18},{"k":"O","s":4,"v":2.18},{"k":"O","s":4.2,"v":2.18},{"k":"O","s":4.4,"v":2.18},{"k":"O","s":4.6,"v":2.18},{"k":"O","s":4.8,"v":2.18},{"k":"O","s":5,"v":2.18},
{"k":"L","s":0.2,"v":1},{"k":"L","s":0.4,"v":1.27},{"k":"L","s":0.6,"v":4.31},{"k":"L","s":0.8,"v":9},{"k":"L","s":1,"v":13.1},{"k":"L","s":1.2,"v":16},{"k":"L","s":1.4,"v":18},{"k":"L","s":1.6,"v":18.4},{"k":"L","s":1.8,"v":18.4},{"k":"L","s":2,"v":18.4},{"k":"L","s":2.2,"v":18.4},{"k":"L","s":2.4,"v":18.4},{"k":"L","s":2.6,"v":18.3},{"k":"L","s":2.8,"v":18.3},{"k":"L","s":3,"v":18.3},{"k":"L","s":3.2,"v":18.2},{"k":"L","s":3.4,"v":18.2},{"k":"L","s":3.6,"v":18.2},{"k":"L","s":3.8,"v":18.1},{"k":"L","s":4,"v":18.1},{"k":"L","s":4.2,"v":18.1},{"k":"L","s":4.4,"v":18},{"k":"L","s":4.6,"v":18},{"k":"L","s":4.8,"v":18},{"k":"L","s":5,"v":18},
{"k":"T","s":0.2,"v":1},{"k":"T","s":0.4,"v":1},{"k":"T","s":0.6,"v":0.98},{"k":"T","s":0.8,"v":1},{"k":"T","s":1,"v":1.005},{"k":"T","s":1.2,"v":1.01},{"k":"T","s":1.4,"v":1.015},{"k":"T","s":1.6,"v":1.02},{"k":"T","s":1.8,"v":1.025},{"k":"T","s":2,"v":1.03},{"k":"T","s":2.2,"v":1.035},{"k":"T","s":2.4,"v":1.04},{"k":"T","s":2.6,"v":1.04},{"k":"T","s":2.8,"v":1.045},{"k":"T","s":3,"v":1.05},{"k":"T","s":3.2,"v":1.05},{"k":"T","s":3.4,"v":1.05},{"k":"T","s":3.6,"v":1.055},{"k":"T","s":3.8,"v":1.055},{"k":"T","s":4,"v":1.06},{"k":"T","s":4.2,"v":1.06},{"k":"T","s":4.4,"v":1.06},{"k":"T","s":4.6,"v":1.06},{"k":"T","s":4.8,"v":1.06},{"k":"T","s":5,"v":1.06},
{"k":"Hk","s":0.2,"v":1},{"k":"Hk","s":0.4,"v":1.1},{"k":"Hk","s":0.6,"v":1.54},{"k":"Hk","s":0.8,"v":2.07},{"k":"Hk","s":1,"v":2.63},{"k":"Hk","s":1.2,"v":3},{"k":"Hk","s":1.4,"v":3.25},{"k":"Hk","s":1.6,"v":3.4},{"k":"Hk","s":1.8,"v":3.5},{"k":"Hk","s":2,"v":3.55},{"k":"Hk","s":2.2,"v":3.58},{"k":"Hk","s":2.4,"v":3.6},{"k":"Hk","s":2.6,"v":3.6},{"k":"Hk","s":2.8,"v":3.6},{"k":"Hk","s":3,"v":3.6},{"k":"Hk","s":3.2,"v":3.6},{"k":"Hk","s":3.4,"v":3.6},{"k":"Hk","s":3.6,"v":3.6},{"k":"Hk","s":3.8,"v":3.6},{"k":"Hk","s":4,"v":3.6},{"k":"Hk","s":4.2,"v":3.6},{"k":"Hk","s":4.4,"v":3.6},{"k":"Hk","s":4.6,"v":3.6},{"k":"Hk","s":4.8,"v":3.6},{"k":"Hk","s":5,"v":3.6},
{"k":"Hc","s":0.2,"v":1},{"k":"Hc","s":0.4,"v":1.08},{"k":"Hc","s":0.6,"v":2.03},{"k":"Hc","s":0.8,"v":4.85},{"k":"Hc","s":1,"v":10.6},{"k":"Hc","s":1.2,"v":15.7},{"k":"Hc","s":1.4,"v":20},{"k":"Hc","s":1.6,"v":22.5},{"k":"Hc","s":1.8,"v":23.4},{"k":"Hc","s":2,"v":24.3},{"k":"Hc","s":2.2,"v":24.7},{"k":"Hc","s":2.4,"v":25.1},{"k":"Hc","s":2.6,"v":25.3},{"k":"Hc","s":2.8,"v":25.5},{"k":"Hc","s":3,"v":25.6},{"k":"Hc","s":3.2,"v":25.7},{"k":"Hc","s":3.4,"v":25.8},{"k":"Hc","s":3.6,"v":25.9},{"k":"Hc","s":3.8,"v":25.9},{"k":"Hc","s":4,"v":25.9},{"k":"Hc","s":4.2,"v":25.6},{"k":"Hc","s":4.4,"v":25.3},{"k":"Hc","s":4.6,"v":25},{"k":"Hc","s":4.8,"v":24.8},{"k":"Hc","s":5,"v":24.7},
{"k":"Hn","s":0.2,"v":1},{"k":"Hn","s":0.4,"v":1},{"k":"Hn","s":0.6,"v":1},{"k":"Hn","s":0.8,"v":1.02},{"k":"Hn","s":1,"v":1.03},{"k":"Hn","s":1.2,"v":1.06},{"k":"Hn","s":1.4,"v":1.1},{"k":"Hn","s":1.6,"v":1.12},{"k":"Hn","s":1.8,"v":1.13},{"k":"Hn","s":2,"v":1.13},{"k":"Hn","s":2.2,"v":1.13},{"k":"Hn","s":2.4,"v":1.14},{"k":"Hn","s":2.6,"v":1.14},{"k":"Hn","s":2.8,"v":1.14},{"k":"Hn","s":3,"v":1.14},{"k":"Hn","s":3.2,"v":1.14},{"k":"Hn","s":3.4,"v":1.14},{"k":"Hn","s":3.6,"v":1.14},{"k":"Hn","s":3.8,"v":1.14},{"k":"Hn","s":4,"v":1.14},{"k":"Hn","s":4.2,"v":1.14},{"k":"Hn","s":4.4,"v":1.14},{"k":"Hn","s":4.6,"v":1.14},{"k":"Hn","s":4.8,"v":1.14},{"k":"Hn","s":5,"v":1.14},
{"k":"Vk","s":0.2,"v":1},{"k":"Vk","s":0.4,"v":0.953},{"k":"Vk","s":0.6,"v":0.888},{"k":"Vk","s":0.8,"v":0.9},{"k":"Vk","s":1,"v":0.888},{"k":"Vk","s":1.2,"v":0.853},{"k":"Vk","s":1.4,"v":0.833},{"k":"Vk","s":1.6,"v":0.82},{"k":"Vk","s":1.8,"v":0.8},{"k":"Vk","s":2,"v":0.782},{"k":"Vk","s":2.2,"v":0.775},{"k":"Vk","s":2.4,"v":0.77},{"k":"Vk","s":2.6,"v":0.76},{"k":"Vk","s":2.8,"v":0.755},{"k":"Vk","s":3,"v":0.75},{"k":"Vk","s":3.2,"v":0.745},{"k":"Vk","s":3.4,"v":0.74},{"k":"Vk","s":3.6,"v":0.735},{"k":"Vk","s":3.8,"v":0.73},{"k":"Vk","s":4,"v":0.73},{"k":"Vk","s":4.2,"v":0.725},{"k":"Vk","s":4.4,"v":0.725},{"k":"Vk","s":4.6,"v":0.72},{"k":"Vk","s":4.8,"v":0.72},{"k":"Vk","s":5,"v":0.72},
{"k":"Vc","s":0.2,"v":1},{"k":"Vc","s":0.4,"v":1.07},{"k":"Vc","s":0.6,"v":1.81},{"k":"Vc","s":0.8,"v":2.59},{"k":"Vc","s":1,"v":3.14},{"k":"Vc","s":1.2,"v":3.56},{"k":"Vc","s":1.4,"v":3.83},{"k":"Vc","s":1.6,"v":3.98},{"k":"Vc","s":1.8,"v":4.08},{"k":"Vc","s":2,"v":4.1},{"k":"Vc","s":2.2,"v":4.1},{"k":"Vc","s":2.4,"v":4.1},{"k":"Vc","s":2.6,"v":4.1},{"k":"Vc","s":2.8,"v":4.1},{"k":"Vc","s":3,"v":4.1},{"k":"Vc","s":3.2,"v":4.1},{"k":"Vc","s":3.4,"v":4.1},{"k":"Vc","s":3.6,"v":4.1},{"k":"Vc","s":3.8,"v":4.1},{"k":"Vc","s":4,"v":4.1},{"k":"Vc","s":4.2,"v":4.1},{"k":"Vc","s":4.4,"v":4.1},{"k":"Vc","s":4.6,"v":4.1},{"k":"Vc","s":4.8,"v":4.1},{"k":"Vc","s":5,"v":4.1},
{"k":"Vn","s":0.2,"v":1},{"k":"Vn","s":0.4,"v":0.94},{"k":"Vn","s":0.6,"v":0.88},{"k":"Vn","s":0.8,"v":0.87},{"k":"Vn","s":1,"v":0.853},{"k":"Vn","s":1.2,"v":0.845},{"k":"Vn","s":1.4,"v":0.833},{"k":"Vn","s":1.6,"v":0.833},{"k":"Vn","s":1.8,"v":0.825},{"k":"Vn","s":2,"v":0.82},{"k":"Vn","s":2.2,"v":0.815},{"k":"Vn","s":2.4,"v":0.81},{"k":"Vn","s":2.6,"v":0.81},{"k":"Vn","s":2.8,"v":0.805},{"k":"Vn","s":3,"v":0.805},{"k":"Vn","s":3.2,"v":0.8},{"k":"Vn","s":3.4,"v":0.8},{"k":"Vn","s":3.6,"v":0.8},{"k":"Vn","s":3.8,"v":0.8},{"k":"Vn","s":4,"v":0.8},{"k":"Vn","s":4.2,"v":0.8},{"k":"Vn","s":4.4,"v":0.8},{"k":"Vn","s":4.6,"v":0.8},{"k":"Vn","s":4.8,"v":0.8},{"k":"Vn","s":5,"v":0.8}
],
"d":[
{"k":"O","s":0.2,"v":1},{"k":"O","s":0.4,"v":1.06},{"k":"O","s":0.6,"v":1.25},{"k":"O","s":0.8,"v":1.34},{"k":"O","s":1,"v":1.41},{"k":"O","s":1.2,"v":1.43},{"k":"O","s":1.4,"v":1.45},{"k":"O","s":1.6,"v":1.46},{"k":"O","s":1.8,"v":1.47},{"k":"O","s":2,"v":1.48},{"k":"O","s":2.2,"v":1.48},{"k":"O","s":2.4,"v":1.48},{"k":"O","s":2.6,"v":1.48},{"k":"O","s":2.8,"v":1.48},{"k":"O","s":3,"v":1.48},{"k":"O","s":3.2,"v":1.48},{"k":"O","s":3.4,"v":1.48},{"k":"O","s":3.6,"v":1.48},{"k":"O","s":3.8,"v":1.48},{"k":"O","s":4,"v":1.48},{"k":"O","s":4.2,"v":1.48},{"k":"O","s":4.4,"v":1.48},{"k":"O","s":4.6,"v":1.48},{"k":"O","s":4.8,"v":1.48},{"k":"O","s":5,"v":1.48},
{"k":"L","s":0.2,"v":1},{"k":"L","s":0.4,"v":1.15},{"k":"L","s":0.6,"v":2.09},{"k":"L","s":0.8,"v":2.97},{"k":"L","s":1,"v":3.53},{"k":"L","s":1.2,"v":3.88},{"k":"L","s":1.4,"v":4.1},{"k":"L","s":1.6,"v":4.16},{"k":"L","s":1.8,"v":4.19},{"k":"L","s":2,"v":4.21},{"k":"L","s":2.2,"v":4.2},{"k":"L","s":2.4,"v":4.19},{"k":"L","s":2.6,"v":4.18},{"k":"L","s":2.8,"v":4.17},{"k":"L","s":3,"v":4.16},{"k":"L","s":3.2,"v":4.15},{"k":"L","s":3.4,"v":4.14},{"k":"L","s":3.6,"v":4.13},{"k":"L","s":3.8,"v":4.12},{"k":"L","s":4,"v":4.12},{"k":"L","s":4.2,"v":4.11},{"k":"L","s":4.4,"v":4.11},{"k":"L","s":4.6,"v":4.1},{"k":"L","s":4.8,"v":4.1},{"k":"L","s":5,"v":4.1},
{"k":"T","s":0.2,"v":1},{"k":"T","s":0.4,"v":1},{"k":"T","s":0.6,"v":1},{"k":"T","s":0.8,"v":1.003},{"k":"T","s":1,"v":1.005},{"k":"T","s":1.2,"v":1.008},{"k":"T","s":1.4,"v":1.01},{"k":"T","s":1.6,"v":1.012},{"k":"T","s":1.8,"v":1.013},{"k":"T","s":2,"v":1.014},{"k":"T","s":2.2,"v":1.015},{"k":"T","s":2.4,"v":1.016},{"k":"T","s":2.6,"v":1.017},{"k":"T","s":2.8,"v":1.018},{"k":"T","s":3,"v":1.018},{"k":"T","s":3.2,"v":1.019},{"k":"T","s":3.4,"v":1.019},{"k":"T","s":3.6,"v":1.02},{"k":"T","s":3.8,"v":1.02},{"k":"T","s":4,"v":1.02},{"k":"T","s":4.2,"v":1.02},{"k":"T","s":4.4,"v":1.02},{"k":"T","s":4.6,"v":1.02},{"k":"T","s":4.8,"v":1.02},{"k":"T","s":5,"v":1.02},
{"k":"Hk","s":0.2,"v":1},{"k":"Hk","s":0.4,"v":1.02},{"k":"Hk","s":0.6,"v":1.3},{"k":"Hk","s":0.8,"v":1.51},{"k":"Hk","s":1,"v":1.63},{"k":"Hk","s":1.2,"v":1.71},{"k":"Hk","s":1.4,"v":1.76},{"k":"Hk","s":1.6,"v":1.79},{"k":"Hk","s":1.8,"v":1.8},{"k":"Hk","s":2,"v":1.8},{"k":"Hk","s":2.2,"v":1.8},{"k":"Hk","s":2.4,"v":1.795},{"k":"Hk","s":2.6,"v":1.79},{"k":"Hk","s":2.8,"v":1.79},{"k":"Hk","s":3,"v":1.785},{"k":"Hk","s":3.2,"v":1.78},{"k":"Hk","s":3.4,"v":1.78},{"k":"Hk","s":3.6,"v":1.775},{"k":"Hk","s":3.8,"v":1.775},{"k":"Hk","s":4,"v":1.77},{"k":"Hk","s":4.2,"v":1.77},{"k":"Hk","s":4.4,"v":1.77},{"k":"Hk","s":4.6,"v":1.77},{"k":"Hk","s":4.8,"v":1.77},{"k":"Hk","s":5,"v":1.77},
{"k":"Hc","s":0.2,"v":1},{"k":"Hc","s":0.4,"v":1.05},{"k":"Hc","s":0.6,"v":1.46},{"k":"Hc","s":0.8,"v":1.97},{"k":"Hc","s":1,"v":2.37},{"k":"Hc","s":1.2,"v":2.71},{"k":"Hc","s":1.4,"v":2.84},{"k":"Hc","s":1.6,"v":2.96},{"k":"Hc","s":1.8,"v":2.98},{"k":"Hc","s":2,"v":3.01},{"k":"Hc","s":2.2,"v":3},{"k":"Hc","s":2.4,"v":2.99},{"k":"Hc","s":2.6,"v":2.98},{"k":"Hc","s":2.8,"v":2.97},{"k":"Hc","s":3,"v":2.97},{"k":"Hc","s":3.2,"v":2.96},{"k":"Hc","s":3.4,"v":2.96},{"k":"Hc","s":3.6,"v":2.95},{"k":"Hc","s":3.8,"v":2.95},{"k":"Hc","s":4,"v":2.95},{"k":"Hc","s":4.2,"v":2.94},{"k":"Hc","s":4.4,"v":2.94},{"k":"Hc","s":4.6,"v":2.94},{"k":"Hc","s":4.8,"v":2.94},{"k":"Hc","s":5,"v":2.94},
{"k":"Hn","s":0.2,"v":1},{"k":"Hn","s":0.4,"v":1},{"k":"Hn","s":0.6,"v":1.06},{"k":"Hn","s":0.8,"v":1.11},{"k":"Hn","s":1,"v":1.14},{"k":"Hn","s":1.2,"v":1.17},{"k":"Hn","s":1.4,"v":1.18},{"k":"Hn","s":1.6,"v":1.19},{"k":"Hn","s":1.8,"v":1.19},{"k":"Hn","s":2,"v":1.2},{"k":"Hn","s":2.2,"v":1.2},{"k":"Hn","s":2.4,"v":1.205},{"k":"Hn","s":2.6,"v":1.21},{"k":"Hn","s":2.8,"v":1.21},{"k":"Hn","s":3,"v":1.215},{"k":"Hn","s":3.2,"v":1.22},{"k":"Hn","s":3.4,"v":1.22},{"k":"Hn","s":3.6,"v":1.22},{"k":"Hn","s":3.8,"v":1.225},{"k":"Hn","s":4,"v":1.225},{"k":"Hn","s":4.2,"v":1.23},{"k":"Hn","s":4.4,"v":1.23},{"k":"Hn","s":4.6,"v":1.23},{"k":"Hn","s":4.8,"v":1.23},{"k":"Hn","s":5,"v":1.23},
{"k":"Vk","s":0.2,"v":1},{"k":"Vk","s":0.4,"v":1.01},{"k":"Vk","s":0.6,"v":1.16},{"k":"Vk","s":0.8,"v":1.29},{"k":"Vk","s":1,"v":1.36},{"k":"Vk","s":1.2,"v":1.375},{"k":"Vk","s":1.4,"v":1.39},{"k":"Vk","s":1.6,"v":1.39},{"k":"Vk","s":1.8,"v":1.38},{"k":"Vk","s":2,"v":1.375},{"k":"Vk","s":2.2,"v":1.37},{"k":"Vk","s":2.4,"v":1.365},{"k":"Vk","s":2.6,"v":1.36},{"k":"Vk","s":2.8,"v":1.355},{"k":"Vk","s":3,"v":1.35},{"k":"Vk","s":3.2,"v":1.345},{"k":"Vk","s":3.4,"v":1.34},{"k":"Vk","s":3.6,"v":1.34},{"k":"Vk","s":3.8,"v":1.335},{"k":"Vk","s":4,"v":1.335},{"k":"Vk","s":4.2,"v":1.33},{"k":"Vk","s":4.4,"v":1.33},{"k":"Vk","s":4.6,"v":1.33},{"k":"Vk","s":4.8,"v":1.33},{"k":"Vk","s":5,"v":1.33},
{"k":"Vc","s":0.2,"v":1},{"k":"Vc","s":0.4,"v":1.06},{"k":"Vc","s":0.6,"v":1.46},{"k":"Vc","s":0.8,"v":1.72},{"k":"Vc","s":1,"v":1.89},{"k":"Vc","s":1.2,"v":2.02},{"k":"Vc","s":1.4,"v":2.08},{"k":"Vc","s":1.6,"v":2.13},{"k":"Vc","s":1.8,"v":2.14},{"k":"Vc","s":2,"v":2.15},{"k":"Vc","s":2.2,"v":2.15},{"k":"Vc","s":2.4,"v":2.14},{"k":"Vc","s":2.6,"v":2.14},{"k":"Vc","s":2.8,"v":2.13},{"k":"Vc","s":3,"v":2.13},{"k":"Vc","s":3.2,"v":2.12},{"k":"Vc","s":3.4,"v":2.12},{"k":"Vc","s":3.6,"v":2.12},{"k":"Vc","s":3.8,"v":2.11},{"k":"Vc","s":4,"v":2.11},{"k":"Vc","s":4.2,"v":2.11},{"k":"Vc","s":4.4,"v":2.1},{"k":"Vc","s":4.6,"v":2.1},{"k":"Vc","s":4.8,"v":2.1},{"k":"Vc","s":5,"v":2.1},
{"k":"Vn","s":0.2,"v":1},{"k":"Vn","s":0.4,"v":1},{"k":"Vn","s":0.6,"v":1.07},{"k":"Vn","s":0.8,"v":1.14},{"k":"Vn","s":1,"v":1.16},{"k":"Vn","s":1.2,"v":1.18},{"k":"Vn","s":1.4,"v":1.2},{"k":"Vn","s":1.6,"v":1.21},{"k":"Vn","s":1.8,"v":1.22},{"k":"Vn","s":2,"v":1.215},{"k":"Vn","s":2.2,"v":1.21},{"k":"Vn","s":2.4,"v":1.205},{"k":"Vn","s":2.6,"v":1.2},{"k":"Vn","s":2.8,"v":1.2},{"k":"Vn","s":3,"v":1.2},{"k":"Vn","s":3.2,"v":1.195},{"k":"Vn","s":3.4,"v":1.195},{"k":"Vn","s":3.6,"v":1.19},{"k":"Vn","s":3.8,"v":1.19},{"k":"Vn","s":4,"v":1.19},{"k":"Vn","s":4.2,"v":1.19},{"k":"Vn","s":4.4,"v":1.19},{"k":"Vn","s":4.6,"v":1.19},{"k":"Vn","s":4.8,"v":1.19},{"k":"Vn","s":5,"v":1.19}
]
}
}
